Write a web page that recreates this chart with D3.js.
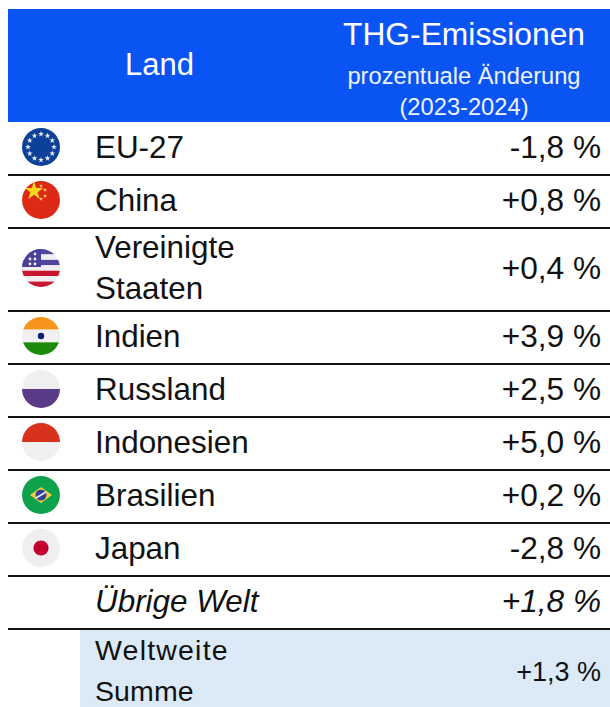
<!DOCTYPE html>
<html>
<head>
<meta charset="utf-8">
<script src="https://d3js.org/d3.v7.min.js"></script>
<style>
    html, body { margin: 0; padding: 0; background: white; overflow: hidden; }
    text { font-family: 'Liberation Sans', Arial, sans-serif; }
</style>
</head>
<body>
<svg id="chart" width="610" height="707"></svg>
<script>
    var headerLand = "Land";
    var headerTitle = "THG-Emissionen";
    var headerSub = ["prozentuale Änderung", "(2023-2024)"];

    var countries = [["EU-27"], ["China"], ["Vereinigte", "Staaten"], ["Indien"], ["Russland"], ["Indonesien"], ["Brasilien"], ["Japan"], ["Übrige Welt"], ["Weltweite", "Summe"]];
    var changes = [-1.8, 0.8, 0.4, 3.9, 2.5, 5.0, 0.2, -2.8, 1.8, 1.3];
    var flagIds = ["eu", "cn", "us", "in", "ru", "id", "br", "jp", null, null];

    var svg = d3.select("#chart");
    var singleRow = 53, doubleRow = 83, lastRow = 79, headerBottom = 122, leftEdge = 8, rightEdge = 610;

    // comma as decimal mark and a plain hyphen, like in the original
    var fmt = d3.format("+.1f");
    function pct(v) { return fmt(v).replace(".", ",").replace("\u2212", "-") + " %"; }

    // row tops from the number of text lines
    var tops = [];
    var y0 = headerBottom;
    countries.forEach(function(c, i) {
        var h = i == countries.length - 1 ? lastRow : (c.length > 1 ? doubleRow : singleRow);
        tops.push({ top: y0, h: h });
        y0 += h;
    });

    var defs = svg.append("defs");
    defs.append("filter").attr("id", "soft").append("feGaussianBlur").attr("stdDeviation", 0.5);
    defs.append("clipPath").attr("id", "disc").append("circle").attr("r", 19);

    // header
    svg.append("rect").attr("x", leftEdge).attr("y", 9).attr("width", rightEdge - leftEdge).attr("height", headerBottom - 9).attr("fill", "#0a54f4");
    svg.append("text").attr("x", 159.5).attr("y", 75).attr("text-anchor", "middle").attr("fill", "white").attr("font-size", 31).text(headerLand);
    svg.append("text").attr("x", 464).attr("y", 45).attr("text-anchor", "middle").attr("fill", "white").attr("font-size", 31.8).text(headerTitle);
    svg.selectAll(".sub").data(headerSub).join("text").attr("class", "sub")
        .attr("x", 464).attr("y", function(d, i) { return 84 + i * 30.5; })
        .attr("text-anchor", "middle").attr("fill", "#eef3ff").attr("font-size", 23.7).text(function(d) { return d; });

    // light blue total row
    var last = tops[tops.length - 1];
    svg.append("rect").attr("x", 80).attr("y", last.top).attr("width", rightEdge - 80).attr("height", last.h).attr("fill", "#dce9f6");

    // separators
    svg.selectAll(".sep").data(tops.slice(1)).join("line").attr("class", "sep")
        .attr("x1", leftEdge).attr("x2", rightEdge)
        .attr("y1", function(d) { return d.top; }).attr("y2", function(d) { return d.top; })
        .attr("stroke", "#111").attr("stroke-width", 2);

    // rows
    var rows = svg.selectAll(".row").data(countries).join("g").attr("class", "row")
        .attr("transform", function(d, i) { return "translate(0," + (tops[i].top + tops[i].h / 2) + ")"; });

    rows.each(function(lines, i) {
        var g = d3.select(this);
        var isRest = i == 8, isTotal = i == 9;
        var size = isTotal ? 28.5 : 31.4;
        var gap = isTotal ? 40.5 : 41;
        var shift = isTotal ? 2.4 : -1.5; // keeps "Summe" inside the page
        lines.forEach(function(t, k) {
            g.append("text")
                .attr("x", 95)
                .attr("y", (k - (lines.length - 1) / 2) * gap + size * 0.34 + shift)
                .attr("font-size", size)
                .attr("font-style", isRest ? "italic" : "normal")
                .attr("letter-spacing", isTotal ? (k ? 0.1 : 1.2) : 0)
                .attr("fill", "#111")
                .text(t);
        });
        g.append("text")
            .attr("x", 601)
            .attr("y", size * 0.34 + (isTotal ? 3 : -1.5))
            .attr("text-anchor", "end")
            .attr("font-size", isTotal ? 27 : 31.6)
            .attr("font-style", isRest ? "italic" : "normal")
            .attr("fill", "#111")
            .text(pct(changes[i]));
        if (flagIds[i]) {
            var f = g.append("g").attr("transform", "translate(41,-1.5)")
                .attr("filter", "url(#soft)")
                .append("g").attr("clip-path", "url(#disc)");
            drawFlag(f, flagIds[i]);
        }
    });

    function stripes(g, colors) {
        var y = d3.scaleBand().domain(d3.range(colors.length)).range([-19, 19]);
        g.selectAll(".st").data(colors).join("rect").attr("class", "st")
            .attr("x", -20).attr("width", 40)
            .attr("y", function(d, i) { return y(i); }).attr("height", y.bandwidth())
            .attr("fill", function(d) { return d; });
    }

    function star(g, x, y, r, color) {
        g.append("path").attr("d", d3.symbol(d3.symbolStar, r * r * 3)()).attr("transform", "translate(" + x + "," + y + ")").attr("fill", color);
    }

    function drawFlag(g, id) {
        if (id == "eu") {
            stripes(g, ["#0d3f99"]);
            d3.range(12).forEach(function(i) {
                var a = i * Math.PI / 6;
                star(g, 13 * Math.sin(a), -13 * Math.cos(a), 1.9, "#e8eef8");
            });
        } else if (id == "cn") {
            stripes(g, ["#dd2b16"]);
            star(g, -7, -9, 6, "#f9d71c");
            [[0, -14], [4, -10], [4, -4], [0, -1]].forEach(function(p) { star(g, p[0], p[1], 1.3, "#f6d96a"); });
        } else if (id == "us") {
            stripes(g, ["#5145a0", "#f1eef2", "#5145a0", "#f1eef2", "#c8152f", "#f1eef2", "#c8152f"]);
            g.append("rect").attr("x", -20).attr("y", -19).attr("width", 20).attr("height", 18).attr("fill", "#4a3f9c");
            [[-11, -9], [-6, -9], [-11, -4], [-6, -4], [-6, -14]].forEach(function(p) {
                g.append("circle").attr("cx", p[0]).attr("cy", p[1]).attr("r", 1.4).attr("fill", "#f1eef2");
            });
        } else if (id == "in") {
            stripes(g, ["#f7941f", "#f0f0f0", "#1f8a10"]);
            g.append("circle").attr("r", 3.2).attr("fill", "#0d1f7a");
        } else if (id == "ru") {
            stripes(g, ["#f0f0f0", "#5a3a87"]);
        } else if (id == "id") {
            stripes(g, ["#d9301c", "#f0f0f0"]);
        } else if (id == "br") {
            stripes(g, ["#0ca24b"]);
            g.append("path").attr("d", d3.line()([[-11, 0], [0, -8], [11, 0], [0, 8]])).attr("fill", "#f2cf3a");
            g.append("circle").attr("r", 5.5).attr("fill", "#33409a");
            g.append("line").attr("x1", -5).attr("y1", 3).attr("x2", 5).attr("y2", -3).attr("stroke", "#e8e8e8").attr("stroke-width", 1.6);
        } else if (id == "jp") {
            stripes(g, ["#efefef"]);
            g.append("circle").attr("r", 7.6).attr("fill", "#c4002f");
        }
    }
</script>
</body>
</html>
